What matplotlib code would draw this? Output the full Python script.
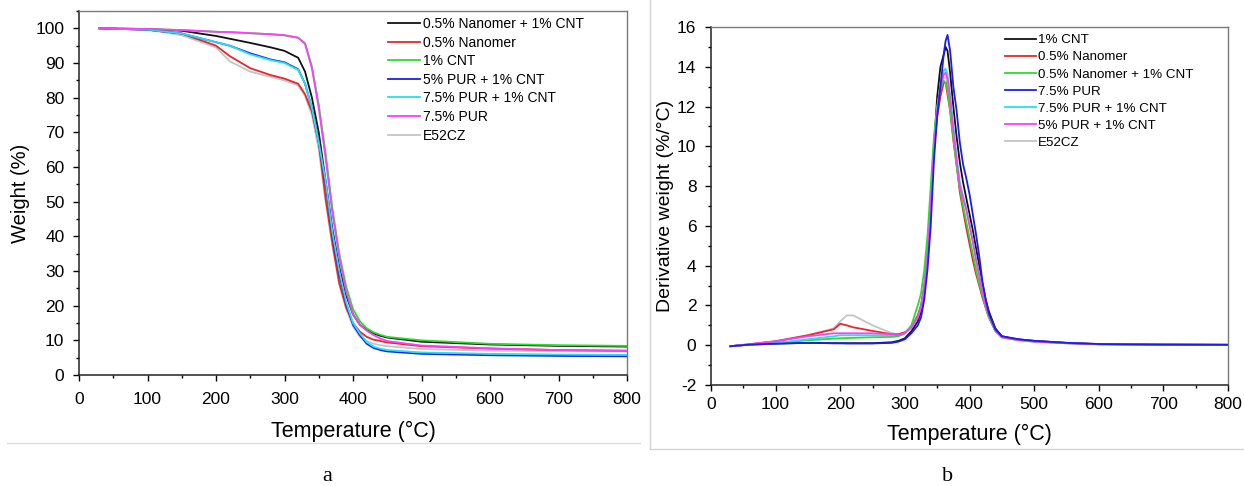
import matplotlib
matplotlib.use("Agg")
import matplotlib.pyplot as plt
from matplotlib.ticker import MultipleLocator
from matplotlib.lines import Line2D

plt.rcParams['font.family'] = ['Liberation Sans', 'DejaVu Sans']
plt.rcParams['axes.unicode_minus'] = False

# ---------------- Panel a: TGA ----------------
tga_labels = ["0.5% Nanomer + 1% CNT", "0.5% Nanomer", "1% CNT", "5% PUR + 1% CNT",
              "7.5% PUR + 1% CNT", "7.5% PUR", "E52CZ"]
tga_colors = ["#111111", "#e8262b", "#2add2a", "#1c1cf0", "#22e2ee", "#ff3cff", "#c4c4c4"]

T_tga = [30, 100, 150, 200, 220, 250, 280, 300, 320, 330, 340, 350, 360, 370, 380,
         390, 400, 410, 420, 430, 440, 450, 500, 600, 700, 800]
w_black = [100, 99.8, 99.3, 97.8, 97.0, 95.8, 94.5, 93.5, 91.5, 87.5, 80, 70, 56, 42, 31,
           23, 17.5, 14.5, 13.0, 12.0, 11.3, 10.8, 9.6, 8.8, 8.4, 8.2]
w_red = [100, 99.6, 98.5, 95.0, 92.0, 88.5, 86.5, 85.5, 84.0, 81.0, 76, 67, 51, 38, 26.5,
         19.5, 15, 12.5, 11.0, 10.2, 9.8, 9.4, 8.3, 7.6, 7.2, 7.0]
w_green = [100, 99.8, 99.5, 99.0, 98.9, 98.6, 98.3, 98.0, 97.3, 95.7, 89, 78, 64, 48, 35,
           25.5, 19, 15.5, 13.5, 12.3, 11.6, 11.0, 10.0, 9.0, 8.6, 8.4]
w_blue = [100, 99.6, 98.5, 96.0, 95.0, 92.8, 91.0, 90.2, 88.2, 84.0, 77, 67, 55, 40, 29,
          20.5, 14.5, 11.5, 9.0, 7.8, 7.2, 6.8, 6.1, 5.7, 5.5, 5.4]
w_cyan = [100, 99.6, 98.5, 96.0, 95.0, 92.5, 90.8, 90.0, 88.0, 84.0, 77, 67, 56, 41, 30,
          21, 15, 12.0, 9.5, 8.2, 7.6, 7.2, 6.5, 6.1, 5.9, 5.8]
w_magenta = [100, 99.8, 99.5, 99.0, 98.9, 98.6, 98.3, 98.0, 97.3, 95.5, 88.5, 77, 62.5, 46.5,
             34, 24, 17.5, 14.5, 12.8, 11.5, 10.5, 9.8, 8.5, 7.7, 7.2, 7.0]
w_gray = [100, 99.6, 98.0, 94.5, 90.5, 87.5, 86.0, 85.0, 83.5, 80.5, 75, 65, 50, 37, 26,
          19, 14, 11, 9.8, 9.0, 8.6, 8.3, 7.5, 7.0, 6.9, 6.8]
tga_series = [w_black, w_red, w_green, w_blue, w_cyan, w_magenta, w_gray]
tga_z = [3, 3, 3, 3, 3, 4, 2]

# ---------------- Panel b: DTG ----------------
dtg_labels = ["1% CNT", "0.5% Nanomer", "0.5% Nanomer + 1% CNT", "7.5% PUR",
              "7.5% PUR + 1% CNT", "5% PUR + 1% CNT", "E52CZ"]
dtg_colors = ["#111111", "#e8262b", "#2add2a", "#1c1cf0", "#22e2ee", "#ff3cff", "#c4c4c4"]

T_dtg = [30, 60, 100, 150, 190, 200, 210, 220, 250, 280, 290, 300, 310, 320, 325, 330, 335,
         340, 345, 350, 355, 360, 363, 366, 370, 375, 380, 385, 390, 395, 400, 405, 410,
         415, 420, 425, 430, 440, 450, 475, 500, 550, 600, 700, 800]
d_black = [-0.05, 0.03, 0.08, 0.12, 0.10, 0.10, 0.10, 0.10, 0.10, 0.15, 0.22, 0.35, 0.7, 1.2,
           1.7, 2.8, 4.5, 7.0, 10.0, 12.5, 14.0, 14.6, 15.0, 14.8, 13.7, 12.0, 10.5, 9.2, 8.2,
           7.4, 6.6, 5.8, 4.9, 4.0, 3.1, 2.3, 1.7, 0.85, 0.45, 0.3, 0.22, 0.12, 0.06, 0.03, 0.02]
d_red = [-0.05, 0.05, 0.2, 0.5, 0.8, 1.08, 1.0, 0.9, 0.72, 0.55, 0.55, 0.65, 0.9, 1.5,
         2.0, 3.0, 4.6, 7.0, 9.8, 11.5, 12.5, 13.2, 13.2, 12.6, 11.8, 10.3, 9.1, 7.7, 6.8,
         5.9, 5.1, 4.3, 3.6, 3.0, 2.4, 1.9, 1.4, 0.75, 0.42, 0.28, 0.2, 0.11, 0.05, 0.03, 0.02]
d_green = [-0.05, 0.03, 0.1, 0.25, 0.33, 0.35, 0.36, 0.37, 0.4, 0.42, 0.45, 0.6, 1.0, 2.0,
           2.6, 3.8, 5.5, 8.0, 10.5, 12.0, 12.9, 13.3, 13.2, 12.8, 11.8, 10.4, 9.0, 7.9, 7.0,
           6.2, 5.4, 4.6, 3.8, 3.1, 2.5, 1.9, 1.4, 0.7, 0.4, 0.27, 0.2, 0.11, 0.05, 0.03, 0.02]
d_blue = [-0.05, 0.03, 0.08, 0.12, 0.10, 0.10, 0.09, 0.09, 0.09, 0.12, 0.18, 0.3, 0.6, 1.0,
          1.4, 2.3, 3.8, 6.0, 9.3, 11.5, 13.0, 14.6, 15.3, 15.6, 14.8, 13.0, 11.8, 10.2, 9.1,
          8.4, 7.6, 6.6, 5.6, 4.5, 3.2, 2.3, 1.6, 0.8, 0.45, 0.3, 0.22, 0.12, 0.06, 0.03, 0.02]
d_cyan = [-0.05, 0.04, 0.12, 0.3, 0.45, 0.5, 0.5, 0.5, 0.5, 0.5, 0.5, 0.6, 0.9, 1.4,
          1.9, 2.9, 4.5, 7.0, 9.8, 11.9, 13.1, 13.8, 13.9, 13.6, 12.6, 11.0, 9.5, 8.2, 7.5,
          6.9, 6.1, 5.3, 4.4, 3.6, 2.8, 2.0, 1.5, 0.75, 0.4, 0.26, 0.18, 0.1, 0.05, 0.03, 0.02]
d_magenta = [-0.05, 0.05, 0.2, 0.45, 0.6, 0.6, 0.6, 0.6, 0.6, 0.55, 0.5, 0.6, 0.9, 1.4,
             1.9, 2.9, 4.5, 7.0, 9.8, 11.8, 13.0, 13.6, 13.7, 13.4, 12.4, 10.8, 9.3, 8.0, 7.4,
             6.8, 6.0, 5.2, 4.3, 3.5, 2.7, 2.0, 1.5, 0.75, 0.4, 0.26, 0.18, 0.1, 0.05, 0.03, 0.02]
d_gray = [-0.05, 0.05, 0.2, 0.5, 0.85, 1.2, 1.5, 1.5, 1.0, 0.6, 0.55, 0.65, 0.9, 1.5,
          2.0, 3.0, 4.6, 7.0, 9.8, 11.6, 12.7, 13.4, 13.5, 13.1, 12.0, 10.5, 9.2, 7.9, 7.0,
          6.1, 5.3, 4.5, 3.8, 3.1, 2.5, 1.9, 1.4, 0.72, 0.4, 0.27, 0.19, 0.1, 0.05, 0.03, 0.02]
dtg_series = [d_black, d_red, d_green, d_blue, d_cyan, d_magenta, d_gray]
dtg_z = [3, 3, 3, 4, 3, 3.5, 2]

W, H = 1244, 486
fig = plt.figure(figsize=(W / 100, H / 100), dpi=100)

def fx(px):
    return px / W

def fy(py):
    return 1 - py / H

ax1 = fig.add_axes([fx(79), fy(375), fx(627) - fx(79), fy(11) - fy(375)])
ax2 = fig.add_axes([fx(711), fy(385), fx(1228) - fx(711), fy(27) - fy(385)])

for T_, ser, cols, labs, zs, ax in [(T_tga, tga_series, tga_colors, tga_labels, tga_z, ax1),
                                   (T_dtg, dtg_series, dtg_colors, dtg_labels, dtg_z, ax2)]:
    for s, c, l, z in zip(ser, cols, labs, zs):
        ax.plot(T_, s, color=c, lw=1.3, label=l, zorder=z, solid_joinstyle='round')

ax1.set_xlim(0, 800)
ax1.set_ylim(0, 105)
ax1.xaxis.set_major_locator(MultipleLocator(100))
ax1.xaxis.set_minor_locator(MultipleLocator(50))
ax1.yaxis.set_major_locator(MultipleLocator(10))
ax1.yaxis.set_minor_locator(MultipleLocator(5))
ax1.set_ylabel("Weight (%)", fontsize=14.5, labelpad=4)
ax1.set_xlabel("Temperature (°C)", fontsize=15.5, labelpad=10)

ax2.set_xlim(0, 800)
ax2.set_ylim(-2, 16)
ax2.xaxis.set_major_locator(MultipleLocator(100))
ax2.xaxis.set_minor_locator(MultipleLocator(50))
ax2.yaxis.set_major_locator(MultipleLocator(2))
ax2.yaxis.set_minor_locator(MultipleLocator(1))
ax2.set_ylabel("Derivative weight (%/°C)", fontsize=14, labelpad=2)
ax2.set_xlabel("Temperature (°C)", fontsize=15.5, labelpad=9)

for ax in (ax1, ax2):
    ax.tick_params(which='major', direction='out', length=4.5, width=1, labelsize=12.5)
    ax.tick_params(which='minor', direction='out', length=2.5, width=1)
    ax.tick_params(axis='y', which='major', pad=6)
    for sp in ('left', 'bottom'):
        ax.spines[sp].set_color('#222222')
        ax.spines[sp].set_linewidth(1.1)
    for sp in ('top', 'right'):
        ax.spines[sp].set_color('#7a7a7a')
        ax.spines[sp].set_linewidth(1.0)
ax1.tick_params(axis='x', which='major', pad=8)
ax2.tick_params(axis='x', which='major', pad=4)

ax1.legend(loc='upper left', bbox_to_anchor=(fx(388), fy(17)), bbox_transform=fig.transFigure,
           frameon=False, fontsize=10, borderpad=0, borderaxespad=0, handlelength=2.3,
           handletextpad=0.2, labelspacing=0.33)
ax2.legend(loc='upper left', bbox_to_anchor=(fx(1005), fy(34)), bbox_transform=fig.transFigure,
           frameon=False, fontsize=9.6, borderpad=0, borderaxespad=0, handlelength=2.3,
           handletextpad=0.2, labelspacing=0.36)

# light frame lines of the two source images
fig.add_artist(Line2D([fx(650), fx(650)], [fy(0), fy(449)], color='#d4d4d4', lw=1.0))
fig.add_artist(Line2D([fx(650), fx(1244)], [fy(449), fy(449)], color='#d4d4d4', lw=1.0))
fig.add_artist(Line2D([fx(7), fx(640)], [fy(443), fy(443)], color='#dcdcdc', lw=1.0))

fig.text(fx(327), fy(476), "a", fontsize=16, family=['Liberation Serif', 'DejaVu Serif'],
         ha='center', va='center')
fig.text(fx(948), fy(476), "b", fontsize=16, family=['Liberation Serif', 'DejaVu Serif'],
         ha='center', va='center')

fig.savefig("out.png", dpi=100)
